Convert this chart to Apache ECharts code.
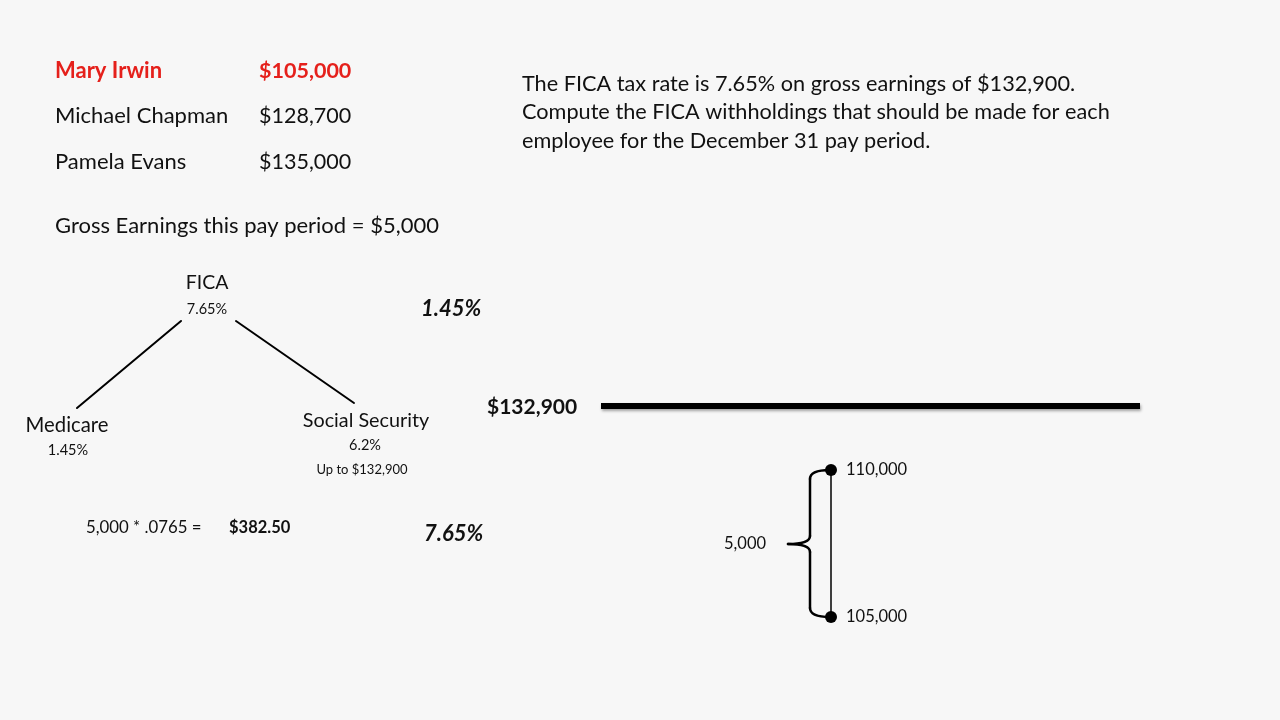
<!DOCTYPE html>
<html>
<head>
<meta charset="utf-8">
<script src="https://cdn.jsdelivr.net/npm/echarts@6/dist/echarts.min.js"></script>
<style>
html,body{margin:0;padding:0;background:#f7f7f7;}
#chart{width:1280px;height:720px;}
</style>
</head>
<body>
<div id="chart"></div>
<script>
// ---- data ----
const employeeNames = ['Mary Irwin', 'Michael Chapman', 'Pamela Evans'];
const employeeSalaries = ['$105,000', '$128,700', '$135,000'];
const grossEarningsLabel = 'Gross Earnings this pay period = $5,000';
const problemLines = [
  'The FICA tax rate is 7.65% on gross earnings of $132,900.',
  'Compute the FICA withholdings that should be made for each',
  'employee for the December 31 pay period.'
];
const ficaRate = '7.65%';
const medicareRate = '1.45%';
const socialSecurityRate = '6.2%';
const wageBaseLabel = '$132,900';
const calcLabel = '5,000 * .0765 =';
const calcResult = '$382.50';
const rangeValues = [105000, 110000];
const rangeLabels = ['105,000', '110,000'];
const rangeDiffLabel = '5,000';

const FONT = 'Lato, "Open Sans", sans-serif';
const TXT = '#111';

function txt(text, x, y, size, opts) {
  opts = opts || {};
  return {
    type: 'text', x: x, y: y + 1, silent: true,
    style: {
      text: text,
      font: (opts.style || 'normal') + ' ' + (opts.weight || 'normal') + ' ' + size + 'px ' + FONT,
      fill: opts.color || TXT,
      align: opts.align || 'left',
      verticalAlign: 'middle'
    }
  };
}
function seg(x1, y1, x2, y2, w) {
  return {type: 'line', silent: true, shape: {x1: x1, y1: y1, x2: x2, y2: y2},
    style: {stroke: '#000', lineWidth: w, lineCap: 'round'}};
}
function curve(x1, y1, cx, cy, x2, y2, w) {
  return {type: 'bezierCurve', silent: true, shape: {x1: x1, y1: y1, cpx1: cx, cpy1: cy, x2: x2, y2: y2},
    style: {stroke: '#000', lineWidth: w, fill: null, lineCap: 'round'}};
}

const graphics = [];
const rowY = [70, 115, 161];
employeeNames.forEach(function (n, i) {
  const red = i === 0;
  graphics.push(txt(n, 55, rowY[i], 22, {weight: red ? 'bold' : 'normal', color: red ? '#e5201b' : TXT}));
  graphics.push(txt(employeeSalaries[i], 259, rowY[i], 21.5, {weight: red ? 'bold' : 'normal', color: red ? '#e5201b' : TXT}));
});
graphics.push(txt(grossEarningsLabel, 55, 225, 22));
problemLines.forEach(function (l, i) {
  graphics.push(txt(l, 522, 83 + i * 28.5, 21.7));
});
// tree
graphics.push(txt('FICA', 207, 282, 19.5, {align: 'center'}));
graphics.push(txt(ficaRate, 207, 308, 14.5, {align: 'center'}));
graphics.push(seg(181, 321, 77, 408, 2));
graphics.push(seg(236, 321, 354, 403, 2));
graphics.push(txt('Medicare', 67, 424, 20.3, {align: 'center'}));
graphics.push(txt(medicareRate, 68, 449, 14.5, {align: 'center'}));
graphics.push(txt('Social Security', 366, 420, 19.8, {align: 'center'}));
graphics.push(txt(socialSecurityRate, 365, 444, 14.5, {align: 'center'}));
graphics.push(txt('Up to ' + wageBaseLabel, 362, 469, 13, {align: 'center'}));
graphics.push(txt(calcLabel, 86, 527, 16.8));
graphics.push(txt(calcResult, 229, 527, 16.5, {weight: 'bold'}));
graphics.push(txt(medicareRate, 421, 308, 22, {weight: 'bold', style: 'italic'}));
graphics.push(txt(ficaRate, 424, 533, 22, {weight: 'bold', style: 'italic'}));
// wage base line
graphics.push(txt(wageBaseLabel, 487, 406, 21, {weight: 'bold'}));
graphics.push({type: 'line', silent: true, shape: {x1: 601, y1: 406, x2: 1140, y2: 406},
  style: {stroke: '#000', lineWidth: 6, shadowBlur: 3, shadowColor: 'rgba(0,0,0,0.35)', shadowOffsetX: 1, shadowOffsetY: 2}});
// brace
graphics.push(curve(830, 470, 810, 470, 810, 479, 2.5));
graphics.push(seg(810, 479, 810, 536, 2.5));
graphics.push(curve(810, 536, 810, 544, 788, 544, 2.5));
graphics.push(curve(788, 544, 810, 544, 810, 552, 2.5));
graphics.push(seg(810, 552, 810, 608, 2.5));
graphics.push(curve(810, 608, 810, 617, 830, 617, 2.5));
graphics.push(txt(rangeDiffLabel, 724, 543, 16.5));

const option = {
  backgroundColor: '#f7f7f7',
  animation: false,
  grid: {left: 781, width: 100, top: 470, height: 147, containLabel: false},
  xAxis: {type: 'value', min: 0, max: 2, show: false},
  yAxis: {type: 'value', min: rangeValues[0], max: rangeValues[1], show: false},
  series: [{
    type: 'line',
    data: rangeValues.map(function (v) { return [1, v]; }),
    symbol: 'circle', symbolSize: 12,
    itemStyle: {color: '#000'},
    lineStyle: {color: '#000', width: 1.5},
    z: 10,
    label: {
      show: true, position: 'right', distance: 9,
      formatter: function (p) { return rangeLabels[p.dataIndex]; },
      fontFamily: FONT, fontSize: 16.5, color: TXT
    }
  }],
  graphic: graphics
};
const chart = echarts.init(document.getElementById('chart'));
chart.setOption(option);
</script>
</body>
</html>
